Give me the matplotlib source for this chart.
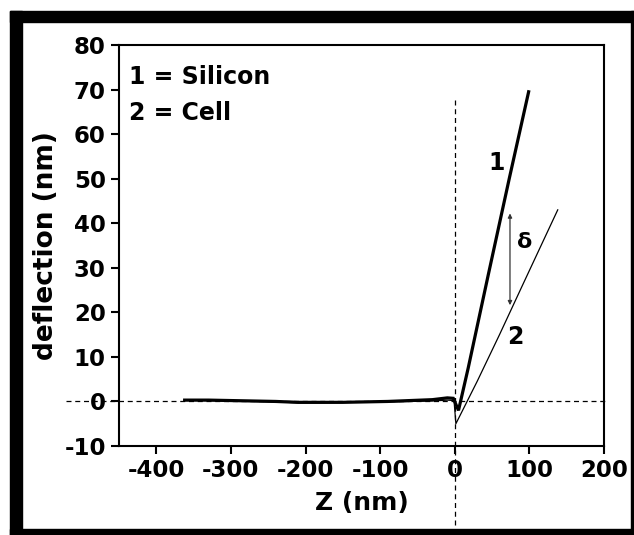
import numpy as np
import matplotlib
matplotlib.use('Agg')
import matplotlib.pyplot as plt
from matplotlib.patches import Rectangle

plt.rcParams['font.family'] = ['DejaVu Sans']
plt.rcParams['font.weight'] = 'bold'
plt.rcParams['axes.labelweight'] = 'bold'
plt.rcParams['axes.unicode_minus'] = False

# curve 1 = silicon (stiff), curve 2 = cell (soft)
z_si = [-362, -330, -300, -270, -240, -210, -180, -150, -120, -90, -60, -30, -10, -2,
        5, 18, 45, 73, 99]
d_si = [0.3, 0.3, 0.2, 0.1, 0.0, -0.2, -0.2, -0.2, -0.1, 0.0, 0.2, 0.4, 0.8, 0.7,
        -2.0, 7.5, 28.5, 50.0, 69.5]

z_cell = [-362, -330, -300, -270, -240, -210, -180, -150, -120, -90, -60, -30, -10, -1,
          1.5, 30, 60, 90, 138]
d_cell = [0.2, 0.2, 0.1, 0.0, -0.1, -0.3, -0.3, -0.2, -0.2, -0.1, 0.0, 0.1, 0.3, 0.2,
          -5.0, 4.5, 15.0, 25.8, 43.0]

# indentation depth arrow (delta)
delta_z = 74
delta_top, delta_bot = 42.2, 21.6

xticks = [-400, -300, -200, -100, 0, 100, 200]
yticks = [-10, 0, 10, 20, 30, 40, 50, 60, 70, 80]

W, H = 634, 535
fig = plt.figure(figsize=(W / 100, H / 100), dpi=100)
ax = fig.add_axes([119 / W, 1 - 446 / H, 485 / W, 401 / H])

# black frame round the picture
def band(x0, y0, x1, y1):
    fig.patches.append(Rectangle((x0 / W, 1 - y1 / H), (x1 - x0) / W, (y1 - y0) / H,
                                 transform=fig.transFigure, color='black', zorder=0))

band(10, 11, 634, 22)
band(10, 11, 22, 535)
band(10, 529, 634, 535)
band(631, 11, 634, 535)

# reference lines at zero, running past the axes
ax.plot([-521, 205], [0, 0], color='black', lw=0.9, ls=(0, (4, 3)), clip_on=False)
ax.plot([0, 0], [67.6, -28.8], color='black', lw=0.9, ls=(0, (4, 3)), clip_on=False)

ax.plot(z_si, d_si, color='black', lw=2.3, solid_joinstyle='miter')
ax.plot(z_cell, d_cell, color='black', lw=0.9)

ax.annotate('', xy=(delta_z, delta_bot), xytext=(delta_z, delta_top),
            arrowprops=dict(arrowstyle='<|-|>', color='#333333', lw=0.9,
                            mutation_scale=6, shrinkA=0, shrinkB=0))

ax.text(55.4, 53.5, '1', fontsize=17, ha='center', va='center')
ax.text(81.8, 14.4, '2', fontsize=17, ha='center', va='center')
ax.text(93.8, 35.8, 'δ', fontsize=16, ha='center', va='center')

ax.text(0.021, 0.921, '1 = Silicon', transform=ax.transAxes, fontsize=17, va='center')
ax.text(0.021, 0.830, '2 = Cell', transform=ax.transAxes, fontsize=17, va='center')

ax.set_xlim(-450, 200)
ax.set_ylim(-10, 80)
ax.set_xticks(xticks)
ax.set_yticks(yticks)
ax.tick_params(direction='out', length=5.5, width=1.5, labelsize=16.5, pad=4)
for s in ax.spines.values():
    s.set_linewidth(1.5)

ax.set_xlabel('Z (nm)', fontsize=18, labelpad=6)
ax.set_ylabel('deflection (nm)', fontsize=19, labelpad=4)

fig.savefig('out.png', dpi=100)
